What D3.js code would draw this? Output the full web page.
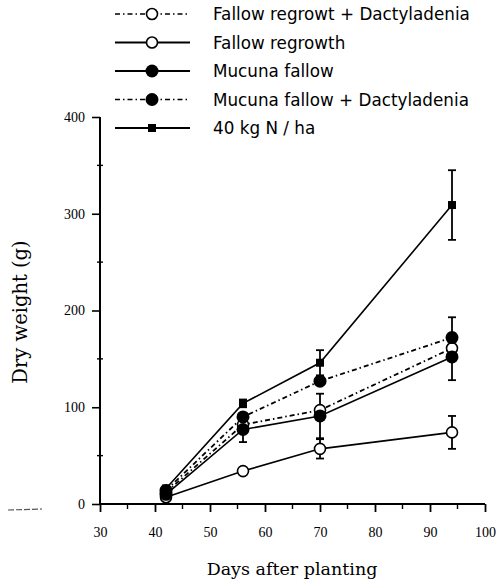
<!DOCTYPE html>
<html>
<head>
<meta charset="utf-8">
<script src="https://cdn.jsdelivr.net/npm/d3@7"></script>
<style>
  body { margin: 0; background: #fff; }
  svg { display: block; }
</style>
</head>
<body>
<script>
// sampling days
const days = [42, 56, 70, 94]

// dry weight (g) per treatment
const fallowDacty = [12, 82, 97, 161]
const fallowRegrowth = [7, 34, 57, 74]
const mucunaFallow = [10, 77, 91, 152]
const mucunaDacty = [14, 90, 127, 172]
const nitrogen40 = [16, 104, 146, 309]

// error bars (+/-)
const fallowDactyErr = [0, 0, 0, 0]
const fallowRegrowthErr = [0, 0, 10, 17]
const mucunaFallowErr = [0, 13, 23, 24]
const mucunaDactyErr = [0, 0, 0, 21]
const nitrogen40Err = [0, 4, 13, 36]

const seriesNames = ["Fallow regrowt + Dactyladenia", "Fallow regrowth", "Mucuna fallow", "Mucuna fallow + Dactyladenia", "40 kg N / ha"]

const xTicks = [30, 40, 50, 60, 70, 80, 90, 100]
const yTicks = [0, 100, 200, 300, 400]

const W = 501, H = 582
const svg = d3.select("body").append("svg")
    .attr("width", W)
    .attr("height", H)

const x = d3.scaleLinear().domain([30, 100]).range([100, 485])
const y = d3.scaleLinear().domain([0, 400]).range([504, 117])

const serif = "'DejaVu Serif', 'Liberation Serif', serif"
const tickFont = "'Liberation Serif', serif"
const sans = "'DejaVu Sans', sans-serif"

const dashDot = "5,3,1.5,3"

let series = [
    { name: seriesNames[0], values: fallowDacty, err: fallowDactyErr, marker: "openCircle", dash: dashDot },
    { name: seriesNames[1], values: fallowRegrowth, err: fallowRegrowthErr, marker: "openCircle", dash: null },
    { name: seriesNames[2], values: mucunaFallow, err: mucunaFallowErr, marker: "filledCircle", dash: null },
    { name: seriesNames[3], values: mucunaDacty, err: mucunaDactyErr, marker: "filledCircle", dash: dashDot },
    { name: seriesNames[4], values: nitrogen40, err: nitrogen40Err, marker: "square", dash: null }
]

let drawMarker = (g, type, cx, cy) => {
    if (type == "openCircle") {
        g.append("circle").attr("cx", cx).attr("cy", cy).attr("r", 5.5)
            .attr("fill", "#fff").attr("stroke", "#000").attr("stroke-width", 1.6)
    } else if (type == "filledCircle") {
        g.append("circle").attr("cx", cx).attr("cy", cy).attr("r", 6.5)
            .attr("fill", "#000")
    } else if (type == "square") {
        g.append("rect").attr("x", cx - 4).attr("y", cy - 4).attr("width", 8).attr("height", 8)
            .attr("fill", "#000")
    }
}

// axes
let yAxis = svg.append("g")
    .attr("transform", "translate(100,0)")
    .call(d3.axisLeft(y).tickValues(yTicks).tickSize(8).tickPadding(7).tickFormat(d3.format("d")))
yAxis.select(".domain").attr("stroke-width", 2).attr("d", "M0," + y(400) + "V" + y(0))
yAxis.selectAll(".tick line").attr("stroke-width", 1.6)
yAxis.selectAll("text").attr("font-family", tickFont).attr("font-size", 14).attr("fill", "#000")

// minor y ticks
svg.append("g").selectAll("line")
    .data([50, 150, 250, 350])
    .enter().append("line")
    .attr("x1", 97).attr("x2", 103)
    .attr("y1", d => y(d)).attr("y2", d => y(d))
    .attr("stroke", "#000").attr("stroke-width", 1.4)

let xAxis = svg.append("g")
    .attr("transform", "translate(0," + y(0) + ")")
    .call(d3.axisBottom(x).tickValues(xTicks).tickSize(8).tickPadding(15).tickFormat(d3.format("d")))
xAxis.select(".domain").attr("stroke-width", 2).attr("d", "M" + x(30) + ",0H" + x(100))
xAxis.selectAll(".tick line").attr("stroke-width", 1.8)
xAxis.selectAll("text").attr("font-family", tickFont).attr("font-size", 14).attr("fill", "#000")

// minor x ticks
svg.append("g").selectAll("line")
    .data([35, 45, 55, 65, 75, 85, 95])
    .enter().append("line")
    .attr("x1", d => x(d)).attr("x2", d => x(d))
    .attr("y1", y(0)).attr("y2", y(0) + 5)
    .attr("stroke", "#000").attr("stroke-width", 1.4)

// axis titles
svg.append("text")
    .attr("transform", "translate(27," + 312 + ") rotate(-90)")
    .attr("text-anchor", "middle")
    .attr("font-family", serif).attr("font-size", 19.5)
    .text("Dry weight (g)")

svg.append("text")
    .attr("x", 292).attr("y", 575)
    .attr("text-anchor", "middle")
    .attr("font-family", serif).attr("font-size", 17.5)
    .text("Days after planting")

// stray scan mark bottom left
svg.append("line")
    .attr("x1", 8).attr("x2", 42).attr("y1", 510).attr("y2", 509)
    .attr("stroke", "#555").attr("stroke-width", 1.2).attr("stroke-dasharray", "6,2")

// lines
let line = d3.line().x((d, i) => x(days[i])).y(d => y(d))
let plot = svg.append("g")

series.forEach(s => {
    plot.append("path")
        .datum(s.values)
        .attr("d", line)
        .attr("fill", "none")
        .attr("stroke", "#000")
        .attr("stroke-width", s.dash ? 1.8 : 1.6)
        .attr("stroke-dasharray", s.dash)
})

// error bars
series.forEach(s => {
    s.values.forEach((v, i) => {
        if (!s.err[i]) return
        let cx = x(days[i])
        let g = plot.append("g").attr("stroke", "#000")
        g.append("line").attr("x1", cx).attr("x2", cx)
            .attr("y1", y(v + s.err[i])).attr("y2", y(v - s.err[i])).attr("stroke-width", 1.8)
        g.append("line").attr("x1", cx - 4).attr("x2", cx + 4)
            .attr("y1", y(v + s.err[i])).attr("y2", y(v + s.err[i])).attr("stroke-width", 1.8)
        g.append("line").attr("x1", cx - 4).attr("x2", cx + 4)
            .attr("y1", y(v - s.err[i])).attr("y2", y(v - s.err[i])).attr("stroke-width", 1.8)
    })
})

// markers
series.forEach(s => {
    s.values.forEach((v, i) => drawMarker(plot, s.marker, x(days[i]), y(v)))
})

// legend
let legend = svg.append("g")
series.forEach((s, i) => {
    let ly = 14 + i * 28.5
    legend.append("line")
        .attr("x1", 115).attr("x2", 190).attr("y1", ly).attr("y2", ly)
        .attr("stroke", "#000").attr("stroke-width", s.dash ? 1.6 : 1.8)
        .attr("stroke-dasharray", s.dash)
    drawMarker(legend, s.marker, 152, ly)
    legend.append("text")
        .attr("x", 213).attr("y", ly + 6)
        .attr("font-family", sans).attr("font-size", 16.8)
        .text(s.name)
})
</script>
</body>
</html>
